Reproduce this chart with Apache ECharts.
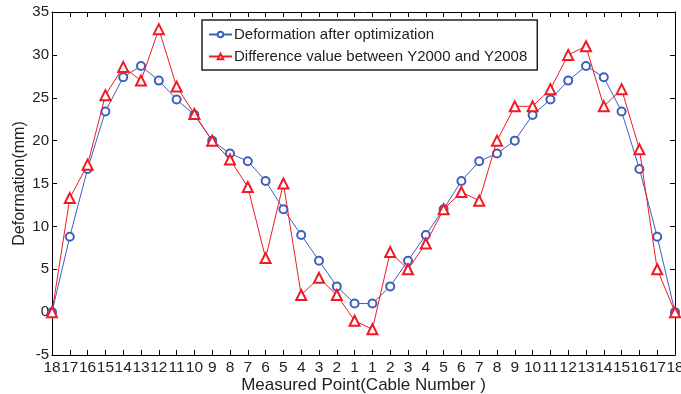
<!DOCTYPE html>
<html><head><meta charset="utf-8">
<script src="https://cdn.jsdelivr.net/npm/echarts@6/dist/echarts.min.js"></script>
<style>html,body{margin:0;padding:0;background:#fff}#c{width:681px;height:394px}</style>
</head><body><div id="c"></div>
<script>
const cableLabels = ['18','17','16','15','14','13','12','11','10','9','8','7','6','5','4','3','2','1','1','2','3','4','5','6','7','8','9','10','11','12','13','14','15','16','17','18'];
const optimized = [0, 8.8, 16.7, 23.4, 27.4, 28.7, 27.0, 24.8, 23.0, 20.0, 18.5, 17.6, 15.3, 12.0, 9.0, 6.0, 3.0, 1.0, 1.0, 3.0, 6.0, 9.0, 12.0, 15.3, 17.6, 18.5, 20.0, 23.0, 24.8, 27.0, 28.7, 27.4, 23.4, 16.7, 8.8, 0];
const difference = [0, 13.3, 17.2, 25.3, 28.6, 27.0, 33.0, 26.3, 23.1, 20.0, 17.8, 14.6, 6.3, 15.0, 2.0, 4.0, 2.0, -1.0, -2.0, 7.0, 5.0, 8.0, 12.0, 14.0, 13.0, 20.0, 24.0, 24.0, 26.0, 30.0, 31.0, 24.0, 26.0, 19.0, 5.0, 0];
const seriesNames = ['Deformation after optimization', 'Difference value between Y2000 and Y2008'];

const FONT = 'Liberation Sans, Arial, sans-serif';
const chart = echarts.init(document.getElementById('c'), null, {renderer: 'canvas'});
const mkLine = () => ({show: true, onZero: false, lineStyle: {color: '#000', width: 1}});
const mkTick = () => ({inside: true, length: 5, lineStyle: {color: '#000'}});
chart.setOption({
  animation: false,
  backgroundColor: '#fff',
  grid: {left: 52, right: 6, top: 12, bottom: 39, containLabel: false, outerBoundsMode: 'none'},
  legend: {
    orient: 'vertical', left: 202, top: 20,
    padding: [7, 10, 6, 6], itemGap: 7,
    borderColor: '#222', borderWidth: 1.5, backgroundColor: '#fff',
    itemWidth: 23, itemHeight: 7,
    textStyle: {fontFamily: FONT, fontSize: 15, color: '#222', padding: [0, 0, 0, -3]},
    data: seriesNames
  },
  xAxis: [{
    type: 'value', min: 0, max: 35, interval: 1, position: 'bottom',
    name: 'Measured Point(Cable Number )', nameLocation: 'middle', nameGap: 22,
    nameMoveOverlap: false,
    nameTextStyle: {fontFamily: FONT, fontSize: 17, color: '#222'},
    axisLine: mkLine(), splitLine: {show: false},
    axisTick: mkTick(),
    axisLabel: {fontFamily: FONT, fontSize: 15.5, color: '#222', margin: 5,
      showMinLabel: true, showMaxLabel: true, hideOverlap: false,
      formatter: v => cableLabels[v] ?? ''}
  }, {
    type: 'value', min: 0, max: 35, interval: 1, position: 'top',
    axisLine: mkLine(), splitLine: {show: false},
    axisTick: mkTick(),
    axisLabel: {show: false}
  }],
  yAxis: [{
    type: 'value', min: -5, max: 35, interval: 5, position: 'left',
    name: 'Deformation(mm)', nameLocation: 'middle', nameGap: 24,
    nameMoveOverlap: false,
    nameTextStyle: {fontFamily: FONT, fontSize: 16, color: '#222'},
    axisLine: mkLine(), splitLine: {show: false},
    axisTick: mkTick(),
    axisLabel: {fontFamily: FONT, fontSize: 15, color: '#222', margin: 3,
      showMinLabel: true, showMaxLabel: true}
  }, {
    type: 'value', min: -5, max: 35, interval: 5, position: 'right',
    axisLine: mkLine(), splitLine: {show: false},
    axisTick: mkTick(),
    axisLabel: {show: false}
  }],
  series: [{
    name: seriesNames[0], type: 'line',
    data: optimized.map((v, i) => [i, v]),
    symbol: 'emptyCircle', symbolSize: 8,
    lineStyle: {color: '#3f5fbf', width: 1},
    itemStyle: {color: '#3f5fbf', borderWidth: 1},
    z: 2
  }, {
    name: seriesNames[1], type: 'line',
    data: difference.map((v, i) => [i, v]),
    symbol: 'emptyTriangle', symbolSize: 10,
    lineStyle: {color: '#f01a24', width: 1},
    itemStyle: {color: '#f01a24', borderWidth: 1},
    z: 3
  }]
});
</script></body></html>
